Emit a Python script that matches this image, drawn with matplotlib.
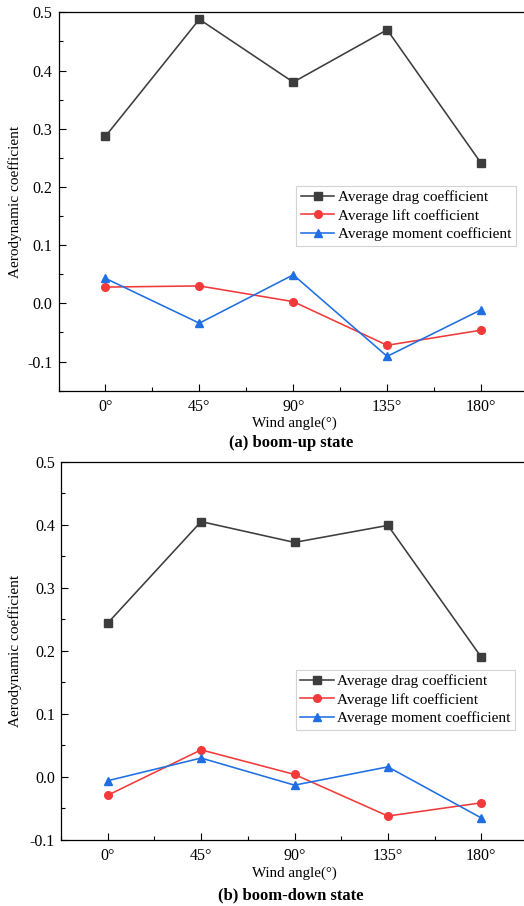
import matplotlib
matplotlib.use("Agg")
import matplotlib.pyplot as plt
from matplotlib.ticker import MultipleLocator, FixedLocator, FormatStrFormatter

plt.rcParams['font.family'] = ['Liberation Serif', 'DejaVu Serif']

angles = [0, 45, 90, 135, 180]
tick_labels = ['0°', '45°', '90°', '135°', '180°']

up_drag = [0.287, 0.488, 0.380, 0.470, 0.241]
up_lift = [0.028, 0.030, 0.003, -0.072, -0.046]
up_moment = [0.043, -0.034, 0.049, -0.091, -0.011]

down_drag = [0.244, 0.405, 0.372, 0.399, 0.190]
down_lift = [-0.029, 0.043, 0.004, -0.062, -0.041]
down_moment = [-0.006, 0.030, -0.013, 0.016, -0.065]

series_names = ['Average drag coefficient', 'Average lift coefficient', 'Average moment coefficient']
colors = ['#3d3d3d', '#f23a3a', '#1f6fe3']
markers = ['s', 'o', '^']

W, H = 524, 906
fig = plt.figure(figsize=(W / 100, H / 100), dpi=100)

def px_axes(left, top, right, bottom):
    return fig.add_axes([left / W, 1 - bottom / H, (right - left) / W, (bottom - top) / H])

panels = [
    dict(box=(58.5, 12.3, 528, 390.7), ylim=(-0.15, 0.5), data=(up_drag, up_lift, up_moment),
         leg=(0.5065, 0.541), caption='(a) boom-up state', cap_y=443, xl_y=423),
    dict(box=(61, 461.7, 528, 840), ylim=(-0.1, 0.5), data=(down_drag, down_lift, down_moment),
         leg=(0.503, 0.4494), caption='(b) boom-down state', cap_y=895, xl_y=873),
]

for p in panels:
    b = p['box']
    ax = px_axes(*b)
    for vals, name, c, m in zip(p['data'], series_names, colors, markers):
        ax.plot(angles, vals, color=c, marker=m, markersize=5.5, linewidth=1.15, label=name)
    ax.set_xlim(-22.5, 202.5)
    ax.set_ylim(*p['ylim'])
    ax.xaxis.set_major_locator(FixedLocator(angles))
    ax.set_xticklabels(tick_labels)
    ax.xaxis.set_minor_locator(MultipleLocator(22.5))
    ax.yaxis.set_major_locator(MultipleLocator(0.1))
    ax.yaxis.set_minor_locator(MultipleLocator(0.05))
    ax.yaxis.set_major_formatter(FormatStrFormatter('%.1f'))
    ax.tick_params(which='both', direction='in', labelsize=11.5, width=0.8)
    ax.tick_params(which='major', length=5)
    ax.tick_params(which='minor', length=3)
    ax.tick_params(axis='x', pad=6)
    ax.tick_params(axis='y', pad=4.5)
    for s in ax.spines.values():
        s.set_linewidth(0.9)
    ax.set_ylabel('Aerodynamic coefficient', fontsize=11)
    ax.yaxis.set_label_coords(-(b[0] - 22) / (b[2] - b[0]), 0.5)
    ax.set_xlabel('Wind angle(°)', fontsize=10.8)
    ax.xaxis.label.set_va('center')
    ax.xaxis.set_label_coords((294 - b[0]) / (b[2] - b[0]), -(p['xl_y'] - b[3]) / (b[3] - b[1]))
    leg = ax.legend(loc='upper left', bbox_to_anchor=p['leg'], borderaxespad=0,
                    fontsize=11, frameon=True, fancybox=False, handlelength=2.2,
                    handletextpad=0.2, labelspacing=0.3, borderpad=0.3)
    leg.get_frame().set_edgecolor('#c8c8c8')
    leg.get_frame().set_linewidth(0.8)
    fig.text(291 / W, 1 - p['cap_y'] / H, p['caption'], ha='center', va='center',
             fontsize=12, fontweight='bold')

fig.savefig('out.png', dpi=100)
